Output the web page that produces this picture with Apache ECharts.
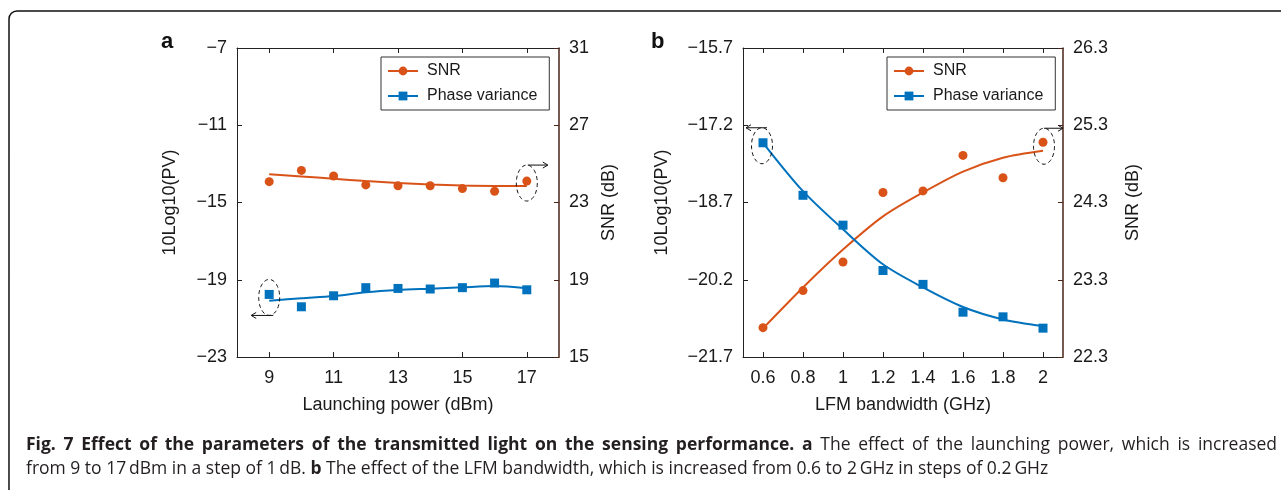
<!DOCTYPE html>
<html>
<head>
<meta charset="utf-8">
<script src="https://cdn.jsdelivr.net/npm/echarts@6/dist/echarts.min.js"></script>
<style>
html,body{margin:0;padding:0;background:#fff;}
#c{width:1281px;height:490px;}
</style>
</head>
<body>
<div id="c"></div>
<script>
// ---------- data (panel a) ----------
const powerA = [9, 10, 11, 12, 13, 14, 15, 16, 17];
const snrA = [24.08, 24.66, 24.37, 23.91, 23.87, 23.87, 23.72, 23.58, 24.11];
const snrFitA = [24.46, 24.35, 24.23, 24.11, 24.01, 23.93, 23.88, 23.86, 23.86];
const pvA = [-19.76, -20.4, -19.83, -19.41, -19.45, -19.48, -19.41, -19.17, -19.52];
const pvFitA = [-20.09, -19.96, -19.84, -19.65, -19.53, -19.46, -19.39, -19.33, -19.44];
const xTicksA = [9, 11, 13, 15, 17];
const yLeftTicksA = [-23, -19, -15, -11, -7];
const yRightTicksA = [15, 19, 23, 27, 31];

// ---------- data (panel b) ----------
const bwB = [0.6, 0.8, 1.0, 1.2, 1.4, 1.6, 1.8, 2.0];
const snrB = [22.68, 23.16, 23.53, 24.43, 24.45, 24.91, 24.62, 25.08];
const snrFitB = [22.67, 23.2, 23.69, 24.12, 24.43, 24.7, 24.88, 24.97];
const pvB = [-17.54, -18.56, -19.14, -20.02, -20.29, -20.83, -20.92, -21.14];
const pvFitB = [-17.54, -18.48, -19.22, -19.9, -20.35, -20.73, -20.97, -21.1];
const xTicksB = [0.6, 0.8, 1.0, 1.2, 1.4, 1.6, 1.8, 2.0];
const yLeftTicksB = [-21.7, -20.2, -18.7, -17.2, -15.7];
const yRightTicksB = [22.3, 23.3, 24.3, 25.3, 26.3];

const legendNames = ['SNR', 'Phase variance'];
const xNameA = 'Launching power (dBm)';
const xNameB = 'LFM bandwidth (GHz)';
const yLeftName = '10Log10(PV)';
const yRightName = 'SNR (dB)';

const captionBold1 = 'Fig. 7 Effect of the parameters of the transmitted light on the sensing performance. a';
const captionPlain1 = 'The effect of the launching power, which is increased';
const captionLine2 = 'from 9 to 17\u2009dBm in a step of 1\u2009dB. {b|b} The effect of the LFM bandwidth, which is increased from 0.6 to 2\u2009GHz in steps of 0.2\u2009GHz';

const ORANGE = '#D95319';
const BLUE = '#0072BD';
const RIGHTAX = '#4a2416';
const FONT = '"Liberation Sans", Arial, Helvetica, sans-serif';
const CAPFONT = '"Open Sans", "Noto Sans", sans-serif';
const CAPSIZE = 17.5;

const zip = (xs, ys) => xs.map((x, i) => [x, ys[i]]);
const minus = (v, d) => {
  const s = d != null ? Number(v).toFixed(d) : String(v);
  return s.replace('-', '\u2212');
};

function xAx(grid, min, max, ticks, pos, name, gap, dec) {
  return {
    type: 'value', gridIndex: grid, min: min, max: max, position: pos,
    name: pos === 'bottom' ? name : '', nameLocation: 'middle', nameGap: gap,
    nameTextStyle: {fontFamily: FONT, fontSize: 18, color: '#1a1a1a'},
    splitLine: {show: false},
    axisLine: {show: true, onZero: false, lineStyle: {color: '#222', width: 1}},
    axisTick: {show: true, inside: true, length: 5, customValues: ticks, lineStyle: {color: '#222'}},
    axisLabel: {show: pos === 'bottom', customValues: ticks, margin: 12,
      fontFamily: FONT, fontSize: 18, color: '#1a1a1a',
      formatter: v => dec != null ? (Math.abs(v - Math.round(v)) < 1e-9 ? String(Math.round(v)) : Number(v).toFixed(dec)) : String(v)}
  };
}
function yAx(grid, min, max, ticks, pos, name, gap, color, dec) {
  return {
    type: 'value', gridIndex: grid, min: min, max: max, position: pos,
    name: name, nameLocation: 'middle', nameGap: gap, nameRotate: 90,
    nameTextStyle: {fontFamily: FONT, fontSize: 18, color: '#1a1a1a'},
    splitLine: {show: false},
    axisLine: {show: true, onZero: false, lineStyle: {color: color, width: pos === 'right' ? 1.5 : 1}},
    axisTick: {show: true, inside: true, length: 5, customValues: ticks, lineStyle: {color: color}},
    axisLabel: {show: true, customValues: ticks, margin: 10,
      fontFamily: FONT, fontSize: 18, color: '#1a1a1a',
      formatter: v => minus(v, dec)}
  };
}

const chart = echarts.init(document.getElementById('c'), null, {renderer: 'canvas'});

const lineS = (name, x, y, data, color, sym) => ({
  name: name, type: 'line', xAxisIndex: x, yAxisIndex: y, data: data,
  smooth: 0.3, symbol: sym, symbolSize: 9, showSymbol: false,
  lineStyle: {color: color, width: 2}, itemStyle: {color: color}, z: 3, silent: true
});
const scatS = (name, x, y, data, color, sym) => ({
  name: name, type: 'scatter', xAxisIndex: x, yAxisIndex: y, data: data,
  symbol: sym, symbolSize: 9,
  itemStyle: {color: color, opacity: 1}, z: 4, silent: true
});

const legendCommon = {
  orient: 'vertical', data: legendNames, selectedMode: false,
  backgroundColor: '#fff', borderColor: '#333', borderWidth: 1,
  padding: [6, 12, 6, 6], itemGap: 9, itemWidth: 30, itemHeight: 11,
  textStyle: {fontFamily: FONT, fontSize: 16, color: '#1a1a1a', padding: [0, 0, 0, 4]}
};

chart.setOption({
  animation: false,
  grid: [
    {left: 237, right: 1281 - 559, top: 48, bottom: 490 - 357, containLabel: false},
    {left: 743, right: 1281 - 1063, top: 48, bottom: 490 - 357, containLabel: false}
  ],
  legend: [
    Object.assign({left: 381, top: 57}, legendCommon),
    Object.assign({left: 887, top: 57}, legendCommon)
  ],
  xAxis: [
    xAx(0, 8, 18, xTicksA, 'bottom', xNameA, 39, null),
    xAx(0, 8, 18, xTicksA, 'top', '', 0, null),
    xAx(1, 0.5, 2.1, xTicksB, 'bottom', xNameB, 39, 1),
    xAx(1, 0.5, 2.1, xTicksB, 'top', '', 0, 1)
  ],
  yAxis: [
    yAx(0, -23, -7, yLeftTicksA, 'left', yLeftName, 58, '#222', null),
    yAx(0, 15, 31, yRightTicksA, 'right', yRightName, 41, RIGHTAX, null),
    yAx(1, -21.7, -15.7, yLeftTicksB, 'left', yLeftName, 72, '#222', 1),
    yAx(1, 22.3, 26.3, yRightTicksB, 'right', yRightName, 61, RIGHTAX, 1)
  ],
  series: [
    lineS('SNR', 0, 1, zip(powerA, snrFitA), ORANGE, 'circle'),
    lineS('Phase variance', 0, 0, zip(powerA, pvFitA), BLUE, 'rect'),
    scatS('SNR', 0, 1, zip(powerA, snrA), ORANGE, 'circle'),
    scatS('Phase variance', 0, 0, zip(powerA, pvA), BLUE, 'rect'),
    lineS('SNR', 2, 3, zip(bwB, snrFitB), ORANGE, 'circle'),
    lineS('Phase variance', 2, 2, zip(bwB, pvFitB), BLUE, 'rect'),
    scatS('SNR', 2, 3, zip(bwB, snrB), ORANGE, 'circle'),
    scatS('Phase variance', 2, 2, zip(bwB, pvB), BLUE, 'rect')
  ]
});

// ---------- annotations (dashed ellipses + arrows) anchored to data points ----------
function ellipsePts(cx, cy, rx, ry) {
  const pts = [];
  for (let i = 0; i < 48; i++) {
    const t = i / 48 * Math.PI * 2;
    pts.push([cx + rx * Math.cos(t), cy + ry * Math.sin(t)]);
  }
  return pts;
}
function annot(xi, yi, pt, dx, dy, arrowAtTop, dir, len) {
  const p = chart.convertToPixel({xAxisIndex: xi, yAxisIndex: yi}, pt);
  const cx = p[0] + dx, cy = p[1] + dy, rx = 10.5, ry = 18;
  const ay = arrowAtTop ? cy - ry : cy + ry;
  const x0 = p[0] + (dir > 0 ? 1 : 4);
  const x1 = x0 + dir * len;
  return [
    {type: 'polygon', shape: {points: ellipsePts(cx, cy, rx, ry)}, silent: true, z: 10,
     style: {fill: 'none', stroke: '#111', lineWidth: 1, lineDash: [4, 3]}},
    {type: 'line', shape: {x1: x0, y1: ay, x2: x1, y2: ay}, silent: true, z: 10,
     style: {stroke: '#111', lineWidth: 1}},
    {type: 'polyline', shape: {points: [[x1 - dir * 5, ay - 3], [x1, ay], [x1 - dir * 5, ay + 3]]}, silent: true, z: 10,
     style: {fill: 'none', stroke: '#111', lineWidth: 1}}
  ];
}

// ---------- justified first caption line ----------
function justifiedLine(x0, x1, y) {
  const cv = document.createElement('canvas').getContext('2d');
  const words = [];
  captionBold1.split(' ').forEach(w => words.push({t: w, b: true}));
  captionPlain1.split(' ').forEach(w => words.push({t: w, b: false}));
  let total = 0;
  words.forEach(w => {
    cv.font = (w.b ? 'bold ' : '') + CAPSIZE + 'px ' + CAPFONT;
    w.w = cv.measureText(w.t).width;
    total += w.w;
  });
  const gap = (x1 - x0 - total) / (words.length - 1);
  let x = x0;
  return words.map(w => {
    const el = {type: 'text', x: x, y: y, silent: true,
      style: {text: w.t, fontFamily: CAPFONT, fontSize: CAPSIZE, fontWeight: w.b ? 'bold' : 'normal',
              fill: '#231f20', verticalAlign: 'middle'}};
    x += w.w + gap;
    return el;
  });
}

const graphics = [].concat(
  annot(0, 1, [powerA[8], snrA[8]], 0, 2, true, 1, 20),
  annot(0, 0, [powerA[0], pvA[0]], 0, 3, false, -1, 22),
  annot(2, 2, [bwB[0], pvB[0]], -1, 3, true, -1, 21),
  annot(2, 3, [bwB[7], snrB[7]], 1, 4, true, 1, 19),
  justifiedLine(26, 1277, 445),
  [
    {type: 'rect', shape: {x: 9, y: 11, width: 1400, height: 600, r: 8}, silent: true, z: 0,
     style: {fill: 'none', stroke: '#111', lineWidth: 1.5}},
    {type: 'text', left: 161, top: 31, silent: true,
     style: {text: 'a', fontFamily: FONT, fontWeight: 'bold', fontSize: 22, fill: '#111'}},
    {type: 'text', left: 651, top: 31, silent: true,
     style: {text: 'b', fontFamily: FONT, fontWeight: 'bold', fontSize: 22, fill: '#111'}},
    {type: 'text', x: 26, y: 469, silent: true,
     style: {
       text: captionLine2,
       fontFamily: CAPFONT, fontSize: CAPSIZE, fill: '#231f20', verticalAlign: 'middle',
       rich: {b: {fontFamily: CAPFONT, fontSize: CAPSIZE, fontWeight: 'bold', fill: '#231f20'}}
     }}
  ]
);
chart.setOption({graphic: graphics});
</script>
</body>
</html>
